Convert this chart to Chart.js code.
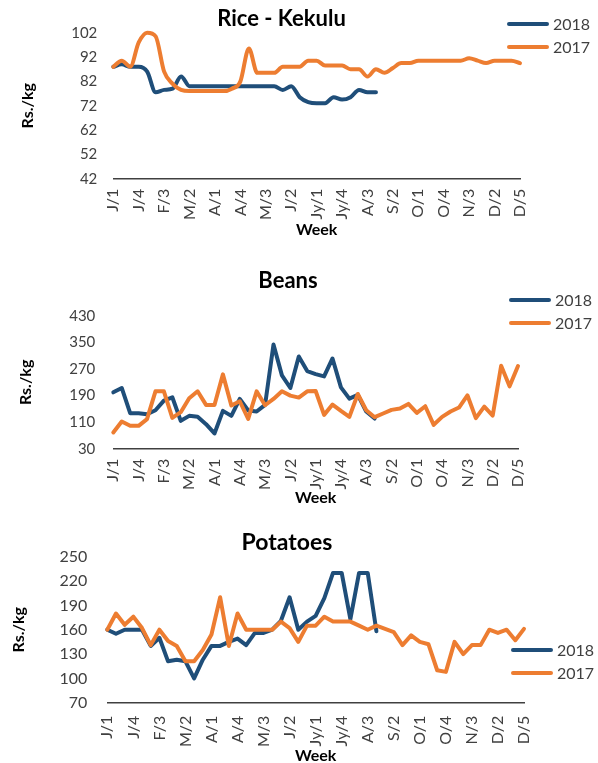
<!DOCTYPE html>
<html>
<head>
<meta charset="utf-8">
<script src="https://cdn.jsdelivr.net/npm/chart.js@4"></script>
<style>
body { margin: 0; width: 598px; height: 763px; overflow: hidden; background: #fff; }
canvas { position: absolute; left: 0; }
.legend { position: absolute; margin: 0; padding: 0; list-style: none; font: 16px Lato, sans-serif; color: #404040; }
.legend li { display: flex; align-items: center; height: 23px; white-space: nowrap; }
.legend .line { display: inline-block; width: 42px; height: 4px; border-radius: 2px; margin-right: 4px; }
</style>
</head>
<body>
<canvas id="riceChart" width="598" height="240" style="top:0px"></canvas>
<ul class="legend" id="riceLegend" style="top:12px; left:507px"></ul>
<canvas id="beansChart" width="598" height="260" style="top:248px"></canvas>
<ul class="legend" id="beansLegend" style="top:288px; left:509px"></ul>
<canvas id="potatoesChart" width="598" height="255" style="top:508px"></canvas>
<ul class="legend" id="potatoesLegend" style="top:638px; left:511px"></ul>
<script>
// weeks of the year, month initial / week number
const weeks = ['J/1', 'J/2', 'J/3', 'J/4', 'F/1', 'F/2', 'F/3', 'F/4', 'M/1', 'M/2', 'M/3', 'M/4',
    'A/1', 'A/2', 'A/3', 'A/4', 'M/1', 'M/2', 'M/3', 'M/4', 'J/1', 'J/2', 'J/3', 'J/4',
    'Jy/1', 'Jy/2', 'Jy/3', 'Jy/4', 'A/1', 'A/2', 'A/3', 'A/4', 'S/1', 'S/2', 'S/3', 'S/4',
    'O/1', 'O/2', 'O/3', 'O/4', 'N/1', 'N/2', 'N/3', 'N/4', 'D/1', 'D/2', 'D/3', 'D/4', 'D/5'];

const rice2018 = [88, 89, 88, 88, 86, 77.5, 78.5, 79, 84, 80, 80, 80, 80, 80, 80, 80, 80, 80, 80, 80,
    78.5, 80, 75.5, 73.5, 73, 73, 75.5, 74.5, 75.5, 78.5, 77.5, 77.5];
const rice2017 = [88, 90.5, 88, 98, 102, 100.5, 86, 81, 78.5, 78, 78, 78, 78, 78, 79, 82, 95.5, 85.5, 85.5, 85.5,
    88, 88, 88, 90.5, 90.5, 88.5, 88.5, 88.5, 87, 87, 84, 87, 85.5, 87.5, 89.5, 89.5, 90.5, 90.5, 90.5, 90.5,
    90.5, 90.5, 91.5, 90.5, 89.5, 90.5, 90.5, 90.5, 89.5];
const riceTicks = [42, 52, 62, 72, 82, 92, 102];

const beans2018 = [200, 213, 137, 137, 134, 146, 175, 185, 114, 129, 126, 104, 76, 144, 129, 180, 145, 142, 162, 344,
    251, 213, 308, 264, 255, 248, 302, 215, 181, 192, 142, 121];
const beans2017 = [79, 112, 99, 99, 119, 203, 203, 123, 140, 182, 203, 162, 162, 254, 160, 173, 120, 203, 161, 180,
    203, 190, 184, 203, 204, 132, 163, 144, 126, 195, 146, 125, 136, 147, 151, 165, 138, 158, 102, 126,
    142, 154, 191, 122, 157, 130, 280, 218, 279];
const beansTicks = [30, 110, 190, 270, 350, 430];

const potatoes2018 = [160, 155, 160, 160, 160, 140, 150, 121, 123, 121, 100, 123, 140, 140, 145, 149, 141, 156, 156, 160,
    171, 200, 160, 170, 177, 199, 230, 230, 173, 230, 230, 158];
const potatoes2017 = [160, 180, 166, 176, 162, 141, 160, 146, 140, 121, 121, 135, 154, 200, 140, 180, 160, 160, 160, 160,
    170, 162, 145, 165, 165, 176, 170, 170, 170, 165, 160, 165, 161, 157, 141, 153, 145, 142, 110, 108,
    145, 130, 141, 141, 160, 156, 160, 147, 161];
const potatoesTicks = [70, 100, 130, 160, 190, 220, 250];

const blue = '#1f4e79';
const orange = '#ed7d31';
const grey = '#404040';

// legend as html list, built from chart.js legend items
const htmlLegend = {
    id: 'htmlLegend',
    afterUpdate(chart, args, options) {
        const ul = document.getElementById(options.containerID);
        ul.innerHTML = '';
        let items = chart.options.plugins.legend.labels.generateLabels(chart);
        items.sort((a, b) => a.datasetIndex - b.datasetIndex);
        items.forEach(item => {
            const li = document.createElement('li');
            const line = document.createElement('span');
            line.className = 'line';
            line.style.background = item.strokeStyle;
            li.appendChild(line);
            li.appendChild(document.createTextNode(item.text));
            ul.appendChild(li);
        });
    }
};

function drawChart(id, legendId, title, data2018, data2017, yTicks, lay) {
    const ctx = document.getElementById(id);
    const lineOpts = {
        borderWidth: 4,
        pointRadius: 0,
        cubicInterpolationMode: lay.smooth ? 'monotone' : 'default',
        tension: 0,
        clip: 4,
        borderJoinStyle: 'round',
        borderCapStyle: 'round'
    };
    return new Chart(ctx, {
        type: 'line',
        data: {
            labels: weeks,
            datasets: [
                Object.assign({label: '2018', data: data2018, borderColor: blue, backgroundColor: blue, order: 1}, lineOpts),
                Object.assign({label: '2017', data: data2017, borderColor: orange, backgroundColor: orange, order: 0}, lineOpts)
            ]
        },
        options: {
            responsive: false,
            animation: false,
            layout: {padding: {left: lay.left, right: lay.right, top: 0, bottom: 0}},
            plugins: {
                legend: {display: false},
                tooltip: {enabled: false},
                htmlLegend: {containerID: legendId},
                title: {
                    display: true,
                    text: title,
                    color: '#000',
                    font: {family: 'Lato', size: lay.titleSize, weight: 'bold'},
                    padding: {top: lay.titleTop, bottom: lay.titleBottom}
                }
            },
            scales: {
                x: {
                    offset: false,
                    grid: {display: false, drawTicks: false},
                    border: {display: true, color: grey, width: 1.5},
                    ticks: {
                        autoSkip: false,
                        minRotation: 90,
                        maxRotation: 90,
                        padding: lay.xTickPad,
                        color: grey,
                        font: {family: 'Lato', size: 16},
                        callback: function (v, i) {
                            return i % 3 === 0 ? this.getLabelForValue(v) : '';
                        }
                    },
                    title: {
                        display: true,
                        text: 'Week',
                        color: '#000',
                        font: {family: 'Lato', size: 16, weight: 'bold'},
                        padding: {top: 0, bottom: lay.xTitlePad}
                    },
                    afterFit: s => { s.height = lay.xHeight; }
                },
                y: {
                    min: yTicks[0],
                    max: yTicks[yTicks.length - 1],
                    grid: {display: false, drawTicks: false},
                    border: {display: false},
                    ticks: {
                        stepSize: yTicks[1] - yTicks[0],
                        padding: lay.yTickPad,
                        color: grey,
                        font: {family: 'Lato', size: lay.tickSize}
                    },
                    title: {
                        display: true,
                        text: 'Rs./kg',
                        color: '#000',
                        font: {family: 'Lato', size: 16, weight: 'bold'},
                        padding: {top: lay.yTitlePad, bottom: 0}
                    },
                    afterFit: s => { s.width = lay.yWidth; }
                }
            }
        },
        plugins: [htmlLegend]
    });
}

drawChart('riceChart', 'riceLegend', 'Rice - Kekulu', rice2018, rice2017, riceTicks, {
    left: 43, right: 78, yWidth: 70.3, xHeight: 61.3, titleSize: 22, titleTop: 5.3, titleBottom: 1,
    yTitlePad: -25, xTitlePad: 0.9, yTickPad: 16, xTickPad: 10, tickSize: 15, smooth: true
});
drawChart('beansChart', 'beansLegend', 'Beans', beans2018, beans2017, beansTicks, {
    left: 58, right: 80, yWidth: 55.3, xHeight: 59.3, titleSize: 22, titleTop: 19.8, titleBottom: 21.8,
    yTitlePad: -41.6, xTitlePad: 0.9, yTickPad: 18, xTickPad: 10, tickSize: 15, smooth: false
});
drawChart('potatoesChart', 'potatoesLegend', 'Potatoes', potatoes2018, potatoes2017, potatoesTicks, {
    left: 50, right: 74, yWidth: 57.3, xHeight: 60.3, titleSize: 23, titleTop: 21.1, titleBottom: 0,
    yTitlePad: -40.6, xTitlePad: -2.6, yTickPad: 20, xTickPad: 13, tickSize: 16, smooth: false
});
</script>
</body>
</html>
